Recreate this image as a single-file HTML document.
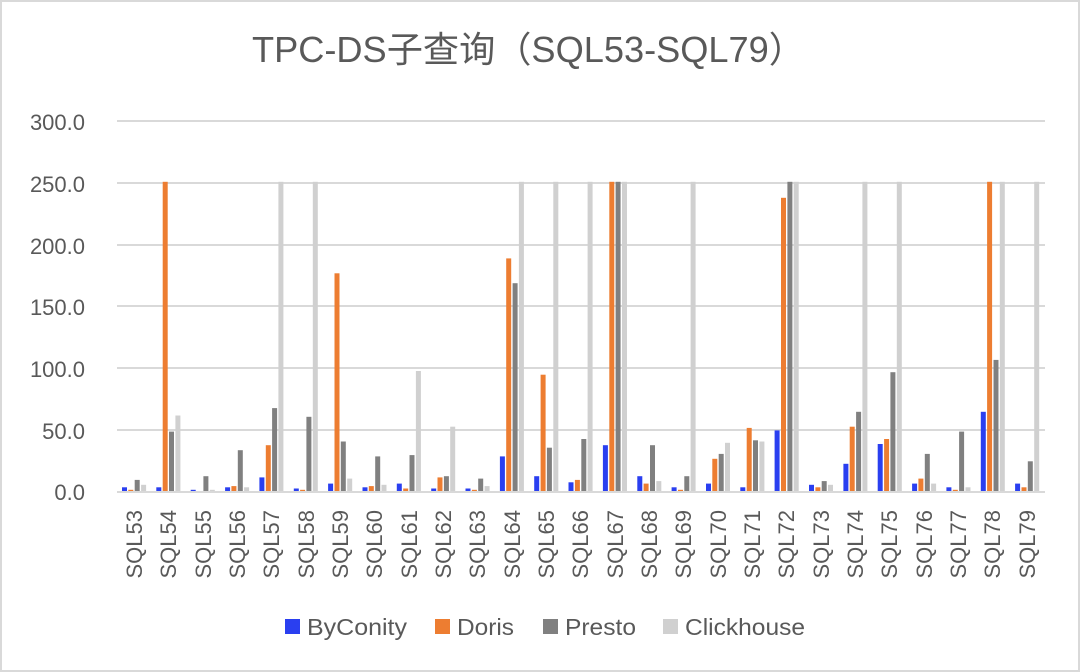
<!DOCTYPE html>
<html><head><meta charset="utf-8"><style>
html,body{margin:0;padding:0;background:#fff}
svg{display:block}
text{font-family:"Liberation Sans","Noto Sans CJK SC",sans-serif;fill:#595959}
</style></head><body>
<svg id="s" width="1080" height="672" xmlns="http://www.w3.org/2000/svg">
<rect x="1" y="1" width="1078" height="670" fill="#fff" stroke="#d9d9d9" stroke-width="2"/>
<text x="252" y="62" font-size="36" textLength="553" lengthAdjust="spacingAndGlyphs">TPC-DS子查询（SQL53-SQL79）</text>
<g stroke="#d9d9d9" stroke-width="2">
<line x1="117" x2="1045" y1="121" y2="121"/>
<line x1="117" x2="1045" y1="183" y2="183"/>
<line x1="117" x2="1045" y1="245" y2="245"/>
<line x1="117" x2="1045" y1="306" y2="306"/>
<line x1="117" x2="1045" y1="368" y2="368"/>
<line x1="117" x2="1045" y1="430" y2="430"/>
</g>
<g font-size="22" text-anchor="end">
<text x="85" y="130">300.0</text>
<text x="85" y="192">250.0</text>
<text x="85" y="254">200.0</text>
<text x="85" y="315">150.0</text>
<text x="85" y="377">100.0</text>
<text x="85" y="439">50.0</text>
<text x="85" y="500">0.0</text>
</g>
<g id="bars"></g>
<line x1="117" x2="1045" y1="492" y2="492" stroke="#d9d9d9" stroke-width="2"/>
<g font-size="22" text-anchor="end">
<text transform="translate(142,510) rotate(-90)">SQL53</text>
<text transform="translate(176,510) rotate(-90)">SQL54</text>
<text transform="translate(211,510) rotate(-90)">SQL55</text>
<text transform="translate(245,510) rotate(-90)">SQL56</text>
<text transform="translate(279,510) rotate(-90)">SQL57</text>
<text transform="translate(314,510) rotate(-90)">SQL58</text>
<text transform="translate(348,510) rotate(-90)">SQL59</text>
<text transform="translate(382,510) rotate(-90)">SQL60</text>
<text transform="translate(417,510) rotate(-90)">SQL61</text>
<text transform="translate(451,510) rotate(-90)">SQL62</text>
<text transform="translate(485,510) rotate(-90)">SQL63</text>
<text transform="translate(520,510) rotate(-90)">SQL64</text>
<text transform="translate(554,510) rotate(-90)">SQL65</text>
<text transform="translate(588,510) rotate(-90)">SQL66</text>
<text transform="translate(623,510) rotate(-90)">SQL67</text>
<text transform="translate(657,510) rotate(-90)">SQL68</text>
<text transform="translate(691,510) rotate(-90)">SQL69</text>
<text transform="translate(726,510) rotate(-90)">SQL70</text>
<text transform="translate(760,510) rotate(-90)">SQL71</text>
<text transform="translate(794,510) rotate(-90)">SQL72</text>
<text transform="translate(829,510) rotate(-90)">SQL73</text>
<text transform="translate(863,510) rotate(-90)">SQL74</text>
<text transform="translate(897,510) rotate(-90)">SQL75</text>
<text transform="translate(932,510) rotate(-90)">SQL76</text>
<text transform="translate(966,510) rotate(-90)">SQL77</text>
<text transform="translate(1000,510) rotate(-90)">SQL78</text>
<text transform="translate(1035,510) rotate(-90)">SQL79</text>
</g>
<g font-size="23">
<rect x="285" y="619" width="15" height="15" fill="#2a3ff0"/><text x="307" y="635" textLength="100" lengthAdjust="spacingAndGlyphs">ByConity</text>
<rect x="435" y="619" width="15" height="15" fill="#ed7d31"/><text x="457" y="635" textLength="57" lengthAdjust="spacingAndGlyphs">Doris</text>
<rect x="543" y="619" width="15" height="15" fill="#808080"/><text x="565" y="635" textLength="71" lengthAdjust="spacingAndGlyphs">Presto</text>
<rect x="663" y="619" width="15" height="15" fill="#d0d0d0"/><text x="685" y="635" textLength="120" lengthAdjust="spacingAndGlyphs">Clickhouse</text>
</g>
</svg>
<script>
var d=[[3,1,9,5],[3,250,48,61],[1,0,12,1],[3,4,33,3],[11,37,67,250],[2,1,60,250],[6,176,40,10],[3,4,28,5],[6,2,29,97],[2,11,12,52],[2,1,10,4],[28,188,168,250],[12,94,35,250],[7,9,42,250],[37,250,250,250],[12,6,37,8],[3,1,12,250],[6,26,30,39],[3,51,41,40],[49,237,250,250],[5,3,8,5],[22,52,64,250],[38,42,96,250],[6,10,30,6],[3,1,48,3],[64,250,106,250],[6,3,24,250]];
var c=["#2a3ff0","#ed7d31","#808080","#d0d0d0"];
var g=document.getElementById("bars"),h="";
for(var i=0;i<d.length;i++){for(var j=0;j<4;j++){var v=d[i][j],x=122+i*34.35+j*6.35,hh=v*1.237,y=491-hh;
h+='<rect x="'+x.toFixed(1)+'" y="'+y.toFixed(1)+'" width="5" height="'+hh.toFixed(1)+'" fill="'+c[j]+'"/>';}}
g.innerHTML=h;
</script>
</body></html>
